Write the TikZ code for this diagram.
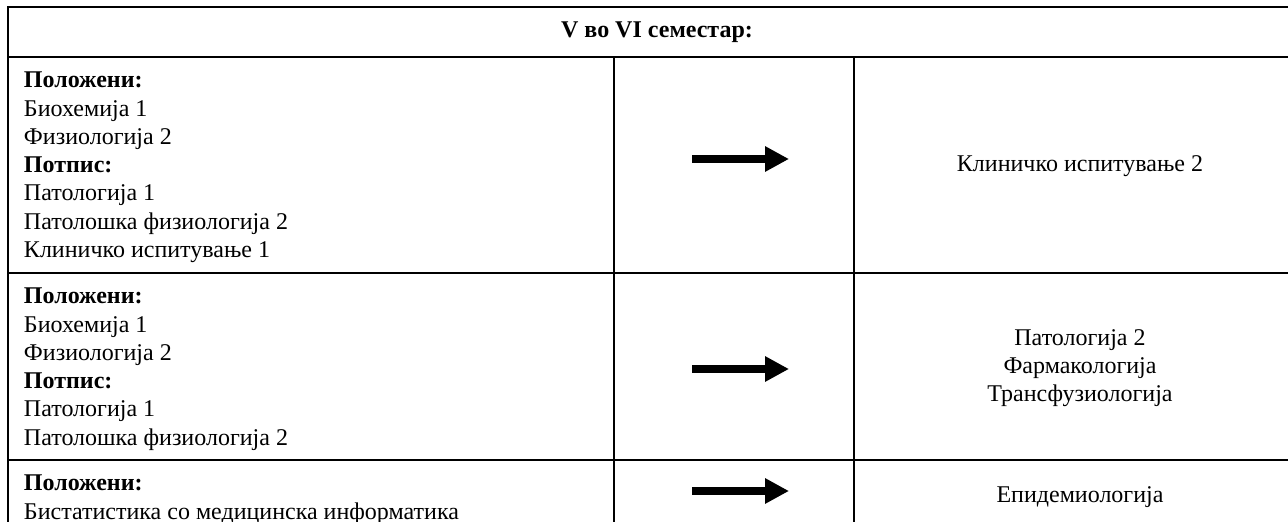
\documentclass[tikz,border=0pt]{standalone}
\usepackage{fontspec}
\setmainfont{Liberation Serif}
\usetikzlibrary{arrows.meta,positioning}

\begin{document}
\begin{tikzpicture}[x=0.5pt,y=-0.5pt,line width=1pt,inner sep=0pt,font=\fontsize{12}{14.15}\selectfont]
\tikzset{every edge/.append style={line width=4pt,-{Triangle[length=12pt,width=12pt]}}}
\tikzset{cell/.style={anchor=north west,align=left}}
\tikzset{goal/.style={align=center}}

\useasboundingbox (0,0) rectangle (1288,522);

% table rules, cut at the page edge
\begin{scope}
\clip (0,0) rectangle (1288,522);
\draw (1306,7) -- (8,7) -- (8,530);
\draw (8,57) -- (1306,57) (8,273) -- (1306,273) (8,460) -- (1306,460);
\draw (614,57) -- (614,530) (854,57) -- (854,530);
\end{scope}

\node			(head)	at (657,32)	{\bfseries V во VI семестар:};

\node[cell]		(c11)	at (23,71)	{\textbf{Положени:}\\Биохемија 1\\Физиологија 2\\\textbf{Потпис:}\\Патологија 1\\Патолошка физиологија 2\\Клиничко испитување 1};
\node[cell]		(c21)	at (23,287)	{\textbf{Положени:}\\Биохемија 1\\Физиологија 2\\\textbf{Потпис:}\\Патологија 1\\Патолошка физиологија 2};
\node[cell]		(c31)	at (23,474)	{\textbf{Положени:}\\Бистатистика со медицинска информатика};

\node[goal]		(c13)	at (1080,166)	{Клиничко испитување 2};
\node[goal]		(c23)	at (1080,368)	{Патологија 2\\Фармакологија\\Трансфузиологија};
\node[goal]		(c33)	at (1080,497)	{Епидемиологија};

\coordinate		(s1)	at (692,159);
\coordinate[right=48.5pt of s1]	(e1);
\coordinate		(s2)	at (692,369);
\coordinate[right=48.5pt of s2]	(e2);
\coordinate		(s3)	at (692,491);
\coordinate[right=48.5pt of s3]	(e3);

\path	(s1)	edge	(e1)
	(s2)	edge	(e2)
	(s3)	edge	(e3);
\end{tikzpicture}
\end{document}
